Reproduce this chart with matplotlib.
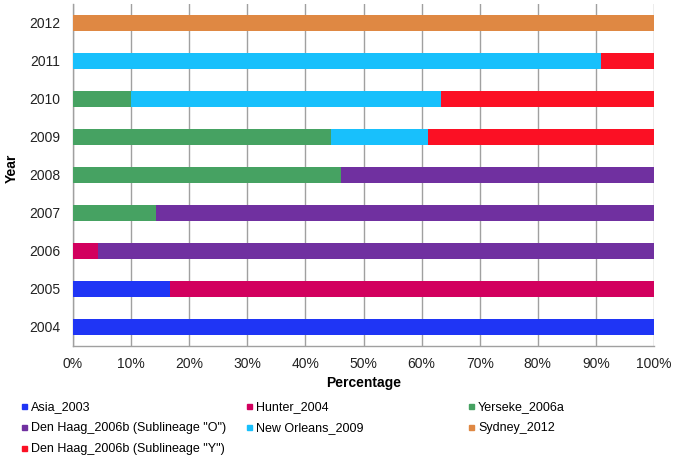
import matplotlib
matplotlib.use("Agg")
import matplotlib.pyplot as plt
from matplotlib.lines import Line2D
import numpy as np

plt.rcParams['font.family'] = ['Liberation Sans', 'DejaVu Sans']

years = ["2004", "2005", "2006", "2007", "2008", "2009", "2010", "2011", "2012"]
series_names = ["Asia_2003", "Hunter_2004", "Yerseke_2006a",
                "Den Haag_2006b (Sublineage \"O\")", "New Orleans_2009",
                "Sydney_2012", "Den Haag_2006b (Sublineage \"Y\")"]
asia_2003      = [100.0, 16.7, 0.0, 0.0, 0.0, 0.0, 0.0, 0.0, 0.0]
hunter_2004    = [0.0, 83.3, 4.3, 0.0, 0.0, 0.0, 0.0, 0.0, 0.0]
yerseke_2006a  = [0.0, 0.0, 0.0, 14.3, 46.2, 44.4, 10.0, 0.0, 0.0]
denhaag_o      = [0.0, 0.0, 95.7, 85.7, 53.8, 0.0, 0.0, 0.0, 0.0]
new_orleans    = [0.0, 0.0, 0.0, 0.0, 0.0, 16.7, 53.3, 90.9, 0.0]
sydney_2012    = [0.0, 0.0, 0.0, 0.0, 0.0, 0.0, 0.0, 0.0, 100.0]
denhaag_y      = [0.0, 0.0, 0.0, 0.0, 0.0, 38.9, 36.7, 9.1, 0.0]
colors = ["#1F35F5", "#D2005E", "#46A262", "#7030A0", "#18C0FC", "#DF8843", "#FB1024"]

series = [asia_2003, hunter_2004, yerseke_2006a, denhaag_o, new_orleans, sydney_2012, denhaag_y]

fig = plt.figure(figsize=(6.77, 4.58), dpi=100)
ax = fig.add_axes([73/677, 1 - 346/458, (654 - 73)/677, (346 - 4)/458])

y = np.arange(len(years))
left = np.zeros(len(years))
for vals, c, name in zip(series, colors, series_names):
    v = np.array(vals)
    ax.barh(y, v, left=left, height=0.4, color=c, label=name, zorder=3)
    left += v

ax.set_xlim(0, 100)
ax.set_ylim(-0.5, len(years) - 0.5)
ax.set_xticks(np.arange(0, 101, 10))
ax.set_xticklabels([f"{t}%" for t in range(0, 101, 10)], fontsize=10, color="#222222")
ax.set_yticks(y)
ax.set_yticklabels(years, fontsize=10, color="#222222")
ax.tick_params(axis='x', length=0, pad=8)
ax.tick_params(axis='y', length=0, pad=9)
ax.grid(axis='x', color="#A0A0A0", linewidth=1.0, zorder=0)
for s in ["top", "right"]:
    ax.spines[s].set_visible(False)
for s in ["left", "bottom"]:
    ax.spines[s].set_color("#A0A0A0")
    ax.spines[s].set_linewidth(1.0)

ax.set_xlabel("Percentage", fontsize=10, fontweight='bold')
ax.set_ylabel("Year", fontsize=10, fontweight='bold')
ax.xaxis.set_label_coords(0.5, -(383 - 346) / 342, transform=ax.transAxes)
ax.yaxis.set_label_coords((12 - 73) / 581, (346 - 168) / 342, transform=ax.transAxes)
ax.xaxis.label.set_va('center')
ax.yaxis.label.set_va('center')

handles = [Line2D([0], [0], marker='s', linestyle='none', markersize=3.6,
                  markerfacecolor=c, markeredgecolor=c) for c in colors]
cols = [[0, 3, 6], [1, 4], [2, 5]]
xs = [21/677, 246/677, 468/677]
for xi, idx in zip(xs, cols):
    fig.legend([handles[i] for i in idx], [series_names[i] for i in idx],
               loc='upper left', bbox_to_anchor=(xi, 1 - 401/458),
               frameon=False, fontsize=9, handlelength=0.45, handletextpad=0.35,
               labelspacing=0.72, borderpad=0, borderaxespad=0)

fig.savefig("out.png", dpi=100)
